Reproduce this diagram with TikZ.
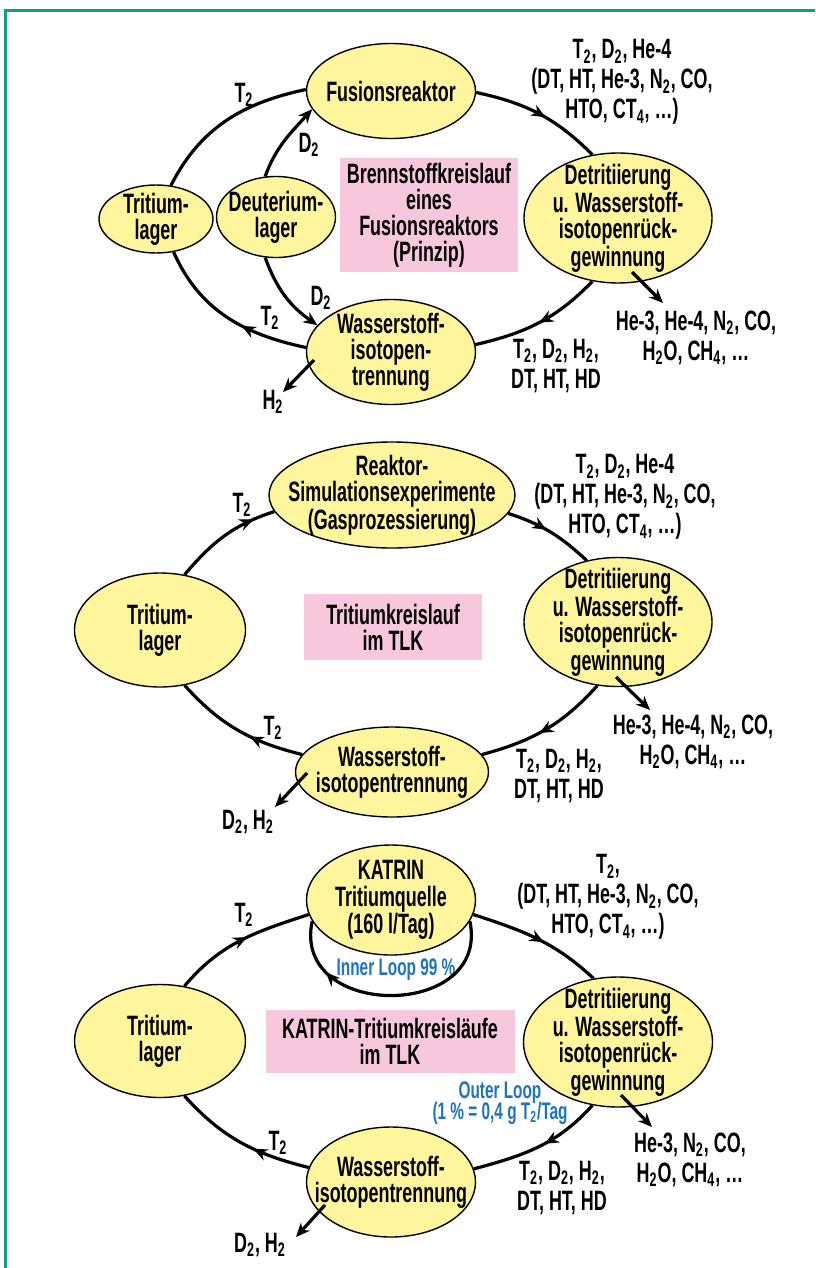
\documentclass[tikz,border=0pt]{standalone}
\usepackage{fontspec}
\setmainfont{Liberation Sans}[FakeStretch=0.64]
\usetikzlibrary{positioning,shapes.geometric,calc,arrows.meta,decorations.markings}
\definecolor{stoffgelb}{RGB}{255,245,157}
\definecolor{stoffrosa}{RGB}{247,200,221}
\definecolor{loopblau}{RGB}{28,117,188}
\definecolor{rahmengruen}{RGB}{20,155,140}
\tikzset{
  stoffnode/.style={ellipse, draw=black, line width=0.7pt, fill=stoffgelb, inner sep=0pt, inner ysep=-6pt,
                    font=\fontsize{14}{#1}\selectfont\bfseries},
  stoffnode/.default=13,
  stoffbox/.style={fill=stoffrosa, inner sep=0pt, align=center,
                   font=\fontsize{14}{13}\selectfont\bfseries},
  stofflbl/.style={inner sep=0pt, align=center,
                   font=\fontsize{14}{15}\selectfont\bfseries},
  looplbl/.style={inner sep=0pt, align=center, text=loopblau,
                  font=\fontsize{12}{10.5}\selectfont\bfseries},
  stoffflow/.style={line width=1.6pt,
                    postaction={decorate, decoration={markings, mark=at position #1 with {\arrow{>}}}}},
  stoffflow/.default=0.55,
  stoffline/.style={line width=1.6pt},
  stofftip/.style={line width=1.6pt, ->},
  rahmen/.style={draw=rahmengruen, line width=1.3pt},
}
\newcommand{\ntext}[1]{\makebox[0pt]{\parbox[c]{300pt}{\centering #1}}}
\newcommand{\ix}[1]{\textsubscript{#1}}

\begin{document}
\lineskiplimit=-20pt
\begin{tikzpicture}[x=0.5pt, y=0.5pt, >={Stealth[length=7pt,width=6pt]}]
    \useasboundingbox (0,0) rectangle (815,-1268);
    \draw[rahmen] (815,-10.5) -- (5.5,-10.5) -- (5.5,-1268);

      % Brennstoffkreislauf
      \node[stoffnode, minimum width=84.5pt, minimum height=47.5pt] (fus) at (391,-91) {\ntext{Fusionsreaktor}};
      \node[stoffnode, minimum width=57pt, minimum height=34pt] (tri1) at (156,-219) {\ntext{Tritium-\\lager}};
      \node[stoffnode, minimum width=59.5pt, minimum height=40.5pt] (deu) at (276,-217) {\ntext{Deuterium-\\lager}};
      \node[stoffnode=12.8, minimum width=94pt, minimum height=65pt] (det1) at (618,-218) {\ntext{Detritiierung\\u. Wasserstoff-\\isotopenrück-\\gewinnung}};
      \node[stoffnode, minimum width=84.5pt, minimum height=52.5pt] (was1) at (391,-352) {\ntext{Wasserstoff-\\isotopen-\\trennung}};
      \node[stoffbox, minimum width=89pt, minimum height=57pt] (box1) at (429,-215) {Brennstoffkreislauf\\eines\\Fusionsreaktors\\(Prinzip)};

      \node[stofflbl] (t1a) at (244,-95) {T\ix{2}};
      \node[stofflbl] (d1a) at (309,-145) {D\ix{2}};
      \node[stofflbl] (gas1) at (622,-82) {T\ix{2}, D\ix{2}, He-4\\(DT, HT, He-3, N\ix{2}, CO,\\HTO, CT\ix{4}, …)};
      \node[stofflbl] (abg1) at (696,-338) {He-3, He-4, N\ix{2}, CO,\\H\ix{2}O, CH\ix{4}, …};
      \node[stofflbl] (iso1) at (556,-366) {T\ix{2}, D\ix{2}, H\ix{2},\\DT, HT, HD};
      \node[stofflbl] (d1b) at (321,-298) {D\ix{2}};
      \node[stofflbl] (t1b) at (270,-318) {T\ix{2}};
      \node[stofflbl] (h1) at (273,-402) {H\ix{2}};

      \draw[stoffflow=0.55] (fus.-1) to[out=-12, in=135] (det1.112);
      \draw[stoffflow=0.5] (det1.248) to[out=-134, in=13] (was1.5);
      \draw[stoffflow=0.4] (was1.177) to[out=168, in=-66] (tri1.298);
      \draw[stoffline] (tri1.66) to[out=63, in=192] (fus.179);
      \draw[stofftip] (deu.105) to[out=70, in=228] (fus.193);
      \draw[stofftip] (deu.255) to[out=-70, in=145] (was1.160);
      \coordinate (det1a) at ($(det1)+(14,-54)$);
      \coordinate (det1b) at ($(det1)+(45,-85)$);
      \draw[stofftip] (det1a) -- (det1b);
      \coordinate (was1a) at ($(was1)+(-77,-8)$);
      \coordinate (was1b) at ($(was1)+(-108,-40)$);
      \draw[stofftip] (was1a) -- (was1b);

      % Tritiumkreislauf im TLK
      \node[stoffnode, minimum width=123pt, minimum height=53pt] (rea) at (392,-495) {\ntext{Reaktor-\\Simulationsexperimente\\(Gasprozessierung)}};
      \node[stoffnode, minimum width=85.5pt, minimum height=57pt] (tri2) at (160,-630) {\ntext{Tritium-\\lager}};
      \node[stoffnode, minimum width=94pt, minimum height=64.5pt] (det2) at (618,-622) {\ntext{Detritiierung\\u. Wasserstoff-\\isotopenrück-\\gewinnung}};
      \node[stoffnode, minimum width=96.5pt, minimum height=45pt] (was2) at (392,-772) {\ntext{Wasserstoff-\\isotopentrennung}};
      \node[stoffbox, minimum width=89pt, minimum height=33pt] (box2) at (393,-627) {Tritiumkreislauf\\im TLK};

      \node[stofflbl] (t2a) at (242,-505) {T\ix{2}};
      \node[stofflbl] (gas2) at (625,-497) {T\ix{2}, D\ix{2}, He-4\\(DT, HT, He-3, N\ix{2}, CO,\\HTO, CT\ix{4}, …)};
      \node[stofflbl] (abg2) at (693,-742) {He-3, He-4, N\ix{2}, CO,\\H\ix{2}O, CH\ix{4}, …};
      \node[stofflbl] (iso2) at (559,-776) {T\ix{2}, D\ix{2}, H\ix{2},\\DT, HT, HD};
      \node[stofflbl] (t2b) at (273,-728) {T\ix{2}};
      \node[stofflbl] (dh2) at (248,-822) {D\ix{2}, H\ix{2}};

      \draw[stoffflow=0.8] (tri2.66) to[out=50, in=198] (rea.188);
      \draw[stoffflow=0.45] (rea.-9) to[out=-18, in=137] (det2.117);
      \draw[stoffflow=0.55] (det2.252) to[out=228, in=15] (was2.11);
      \draw[stoffflow=0.4] (was2.169) to[out=166, in=312] (tri2.294);
      \coordinate (det2a) at ($(det2)+(-2,-55)$);
      \coordinate (det2b) at ($(det2)+(32,-88)$);
      \draw[stofftip] (det2a) -- (det2b);
      \coordinate (was2a) at ($(was2)+(-85,-1)$);
      \coordinate (was2b) at ($(was2)+(-117,-35)$);
      \draw[stofftip] (was2a) -- (was2b);

      % KATRIN-Tritiumkreislaeufe
      \node[stoffnode=13.5, minimum width=84.5pt, minimum height=55pt] (kat) at (391,-900) {\ntext{KATRIN\\Tritiumquelle\\(160 l/Tag)}};
      \node[stoffnode, minimum width=85.5pt, minimum height=56.5pt] (tri3) at (160,-1041) {\ntext{Tritium-\\lager}};
      \node[stoffnode, minimum width=94.5pt, minimum height=65pt] (det3) at (618,-1042) {\ntext{Detritiierung\\u. Wasserstoff-\\isotopenrück-\\gewinnung}};
      \node[stoffnode, minimum width=84.5pt, minimum height=55pt] (was3) at (391,-1182) {\ntext{Wasserstoff-\\isotopentrennung}};
      \node[stoffbox, minimum width=124.5pt, minimum height=31.5pt] (box3) at (390,-1041) {KATRIN-Tritiumkreisläufe\\im TLK};

      \node[stofflbl] (t3a) at (244,-915) {T\ix{2}};
      \node[stofflbl] (gas3) at (608,-897) {T\ix{2},\\(DT, HT, He-3, N\ix{2}, CO,\\HTO, CT\ix{4}, …)};
      \node[looplbl] (inner) at (396,-970) {Inner Loop 99 \%};
      \node[looplbl] (outer) at (500,-1103) {Outer Loop\\(1 \% = 0,4 g T\ix{2}/Tag};
      \node[stofflbl] (abg3) at (690,-1160) {He-3, N\ix{2}, CO,\\H\ix{2}O, CH\ix{4}, …};
      \node[stofflbl] (iso3) at (562,-1188) {T\ix{2}, D\ix{2}, H\ix{2},\\DT, HT, HD};
      \node[stofflbl] (t3b) at (278,-1143) {T\ix{2}};
      \node[stofflbl] (dh3) at (260,-1245) {D\ix{2}, H\ix{2}};

      \draw[stoffflow=0.55] (tri3.66) to[out=50, in=198] (kat.190);
      \draw[stoffflow=0.55] (kat.-10) to[out=-18, in=137] (det3.111);
      \draw[stoffflow=0.45] (det3.248) to[out=228, in=15] (was3.9);
      \draw[stoffflow=0.4] (was3.170) to[out=166, in=312] (tri3.294);
      \draw[stoffflow=0.78] (kat.-15) to[out=-78, in=-102, looseness=1.65] (kat.195);
      \coordinate (det3a) at ($(det3)+(3,-53)$);
      \coordinate (det3b) at ($(det3)+(34,-85)$);
      \draw[stofftip] (det3a) -- (det3b);
      \coordinate (was3a) at ($(was3)+(-66,-23)$);
      \coordinate (was3b) at ($(was3)+(-95,-55)$);
      \draw[stofftip] (was3a) -- (was3b);

\end{tikzpicture}
\end{document}
